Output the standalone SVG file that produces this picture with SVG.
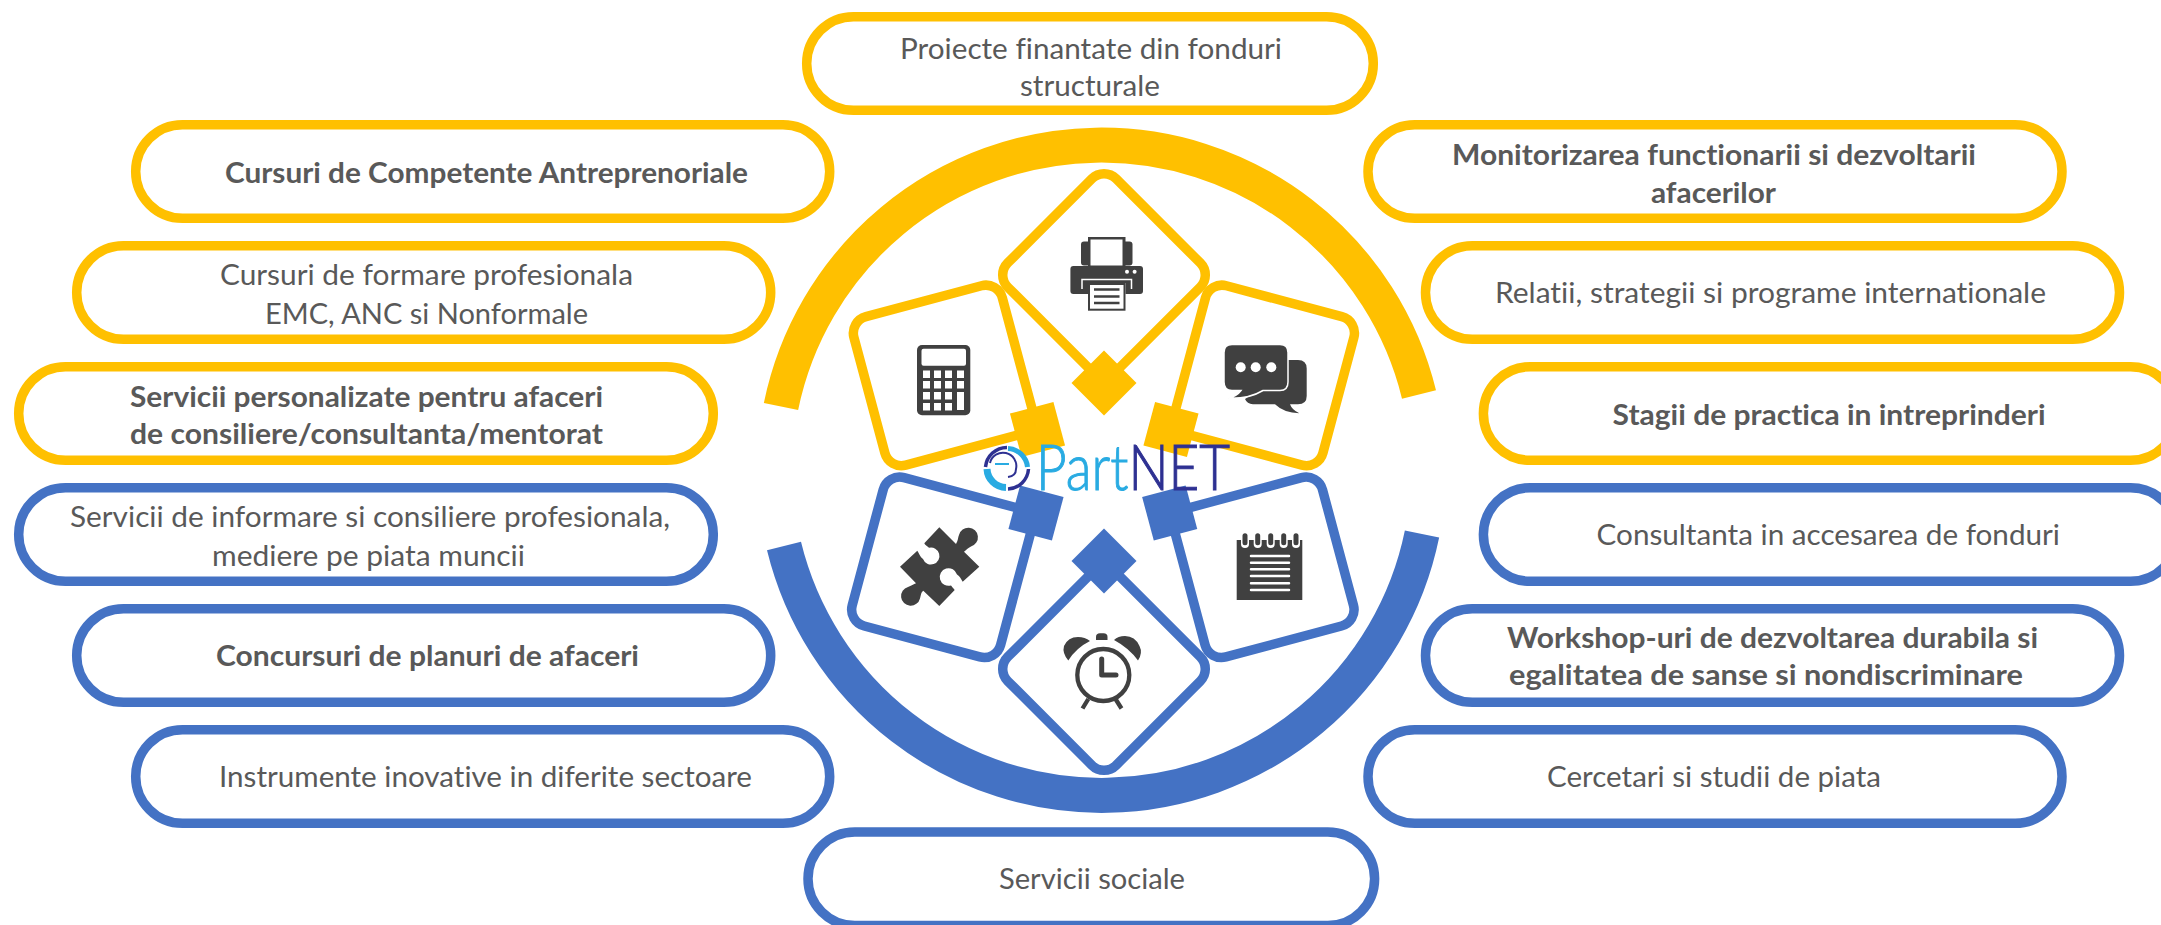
<svg xmlns="http://www.w3.org/2000/svg" width="2161" height="925" viewBox="0 0 2161 925">
<style>
text{font-family:"Lato","Carlito","Open Sans",sans-serif;font-size:29px;fill:#595959;font-variant-ligatures:none}
.b{font-weight:700}
.y{fill:none;stroke:#FFC000;stroke-width:9.5}
.l{fill:none;stroke:#4472C4;stroke-width:9.5}
.fy{fill:#FFC000}.fl{fill:#4472C4}
.k{fill:#404040}.w{fill:#fff}
.ks{fill:none;stroke:#404040;stroke-width:4.300}
.ws{fill:none;stroke:#fff}
.logo{font-family:"Lato","Inter",sans-serif;font-weight:300;font-size:63px;stroke-width:1}
</style>
<rect width="2161" height="925" fill="#fff"/>
<g id="connectors" fill="none" stroke-width="35">
<path d="M781,406.500A327,327 0 0 1 1419,394.500" stroke="#FFC000"/>
<path d="M784,546A327,327 0 0 0 1422,534" stroke="#4472C4"/>
</g>

<g id="pill-top"><rect class="y" x="806.700" y="16.700" width="566.600" height="93.600" rx="46.800"/>
<text x="900" y="59" textLength="382" lengthAdjust="spacingAndGlyphs">Proiecte finantate din fonduri</text>
<text x="1020" y="96" textLength="140" lengthAdjust="spacingAndGlyphs">structurale</text></g>
<g id="pill-l1"><rect class="y" x="135.700" y="124.700" width="694" height="93.600" rx="46.800"/>
<text class="b" x="225" y="183" textLength="523" lengthAdjust="spacingAndGlyphs">Cursuri de Competente Antreprenoriale</text></g>
<g id="pill-l2"><rect class="y" x="76.700" y="245.700" width="694" height="93.600" rx="46.800"/>
<text x="220" y="285" textLength="413" lengthAdjust="spacingAndGlyphs">Cursuri de formare profesionala</text>
<text x="265" y="324" textLength="323" lengthAdjust="spacingAndGlyphs">EMC, ANC si Nonformale</text></g>
<g id="pill-l3"><rect class="y" x="18.700" y="366.700" width="694.600" height="93.600" rx="46.800"/>
<text class="b" x="130" y="407" textLength="473" lengthAdjust="spacingAndGlyphs">Servicii personalizate pentru afaceri</text>
<text class="b" x="130" y="444" textLength="473" lengthAdjust="spacingAndGlyphs">de consiliere/consultanta/mentorat</text></g>
<g id="pill-l4"><rect class="l" x="18.700" y="487.700" width="694.600" height="93.600" rx="46.800"/>
<text x="70" y="527" textLength="600" lengthAdjust="spacingAndGlyphs">Servicii de informare si consiliere profesionala,</text>
<text x="212" y="566" textLength="313" lengthAdjust="spacingAndGlyphs">mediere pe piata muncii</text></g>
<g id="pill-l5"><rect class="l" x="76.700" y="608.700" width="694" height="93.600" rx="46.800"/>
<text class="b" x="216" y="666" textLength="423" lengthAdjust="spacingAndGlyphs">Concursuri de planuri de afaceri</text></g>
<g id="pill-l6"><rect class="l" x="135.700" y="729.700" width="694" height="93.600" rx="46.800"/>
<text x="219" y="787" textLength="533" lengthAdjust="spacingAndGlyphs">Instrumente inovative in diferite sectoare</text></g>
<g id="pill-r1"><rect class="y" x="1368" y="124.700" width="694" height="93.600" rx="46.800"/>
<text class="b" x="1452" y="165" textLength="524" lengthAdjust="spacingAndGlyphs">Monitorizarea functionarii si dezvoltarii</text>
<text class="b" x="1651" y="203" textLength="125" lengthAdjust="spacingAndGlyphs">afacerilor</text></g>
<g id="pill-r2"><rect class="y" x="1425.500" y="245.700" width="694" height="93.600" rx="46.800"/>
<text x="1495" y="303" textLength="551" lengthAdjust="spacingAndGlyphs">Relatii, strategii si programe internationale</text></g>
<g id="pill-r3"><rect class="y" x="1483.400" y="366.700" width="694" height="93.600" rx="46.800"/>
<text class="b" x="1612.600" y="425" textLength="433" lengthAdjust="spacingAndGlyphs">Stagii de practica in intreprinderi</text></g>
<g id="pill-r4"><rect class="l" x="1483.400" y="487.700" width="694" height="93.600" rx="46.800"/>
<text x="1596.600" y="545" textLength="463.400" lengthAdjust="spacingAndGlyphs">Consultanta in accesarea de fonduri</text></g>
<g id="pill-r5"><rect class="l" x="1425.500" y="608.700" width="694" height="93.600" rx="46.800"/>
<text class="b" x="1507" y="648" textLength="531" lengthAdjust="spacingAndGlyphs">Workshop-uri de dezvoltarea durabila si</text>
<text class="b" x="1509" y="685" textLength="514" lengthAdjust="spacingAndGlyphs">egalitatea de sanse si nondiscriminare</text></g>
<g id="pill-r6"><rect class="l" x="1368" y="729.700" width="694" height="93.600" rx="46.800"/>
<text x="1547" y="787" textLength="334" lengthAdjust="spacingAndGlyphs">Cercetari si studii de piata</text></g>
<g id="pill-bottom"><rect class="l" x="808" y="832" width="566.600" height="93.600" rx="46.800"/>
<text x="999" y="889" textLength="186" lengthAdjust="spacingAndGlyphs">Servicii sociale</text></g>

<g id="node-printer">
<rect class="y" x="-76.600" y="-76.600" width="153.200" height="153.200" rx="17" transform="translate(1104,275) rotate(45)"/>
<rect class="fy" x="-23" y="-23" width="46" height="46" transform="translate(1104,383) rotate(45)"/>
<rect class="k" x="1081" y="241.500" width="51.500" height="24" rx="3"/>
<rect class="k" x="1088" y="237" width="37.500" height="29"/>
<rect class="w" x="1090.500" y="239.500" width="32" height="26"/>
<rect class="k" x="1070.400" y="266" width="72.600" height="28" rx="3"/>
<path class="ws" stroke-width="1.500" d="M1082,289V279.500H1131.500V289"/>
<rect class="w" x="1088" y="283" width="37.500" height="27.700"/>
<rect fill="none" stroke="#404040" stroke-width="2" x="1089" y="284" width="35.500" height="25.700"/>
<path d="M1094,289.500H1119.500M1094,296.500H1119.500M1094,303H1119.500" stroke="#404040" stroke-width="2.500" fill="none"/>
<circle class="w" cx="1127" cy="271.700" r="2"/><circle class="w" cx="1134.600" cy="271.700" r="2"/>
</g>

<g id="node-calculator">
<rect class="y" x="-76.800" y="-76.800" width="153.600" height="153.600" rx="17" transform="translate(943.600,375.400) rotate(-15)"/>
<rect class="fy" x="-22.500" y="-22.500" width="45" height="45" transform="translate(1037.500,429.500) rotate(-15)"/>
<rect class="k" x="917" y="345" width="53.300" height="70.300" rx="5"/>
<rect class="w" x="921.500" y="348.700" width="44.500" height="17" rx="2"/>
<g class="w">
<rect x="923" y="370.500" width="7" height="7.500"/><rect x="934" y="370.500" width="7" height="7.500"/><rect x="945" y="370.500" width="7" height="7.500"/><rect x="957" y="370.500" width="7" height="7.500"/>
<rect x="923" y="381" width="7" height="7.500"/><rect x="934" y="381" width="7" height="7.500"/><rect x="945" y="381" width="7" height="7.500"/><rect x="957" y="381" width="7" height="7.500"/>
<rect x="923" y="392" width="7" height="7.500"/><rect x="934" y="392" width="7" height="7.500"/><rect x="945" y="392" width="7" height="7.500"/><rect x="957" y="392" width="7" height="18"/>
<rect x="923" y="403" width="7" height="7.500"/><rect x="934" y="403" width="7" height="7.500"/><rect x="945" y="403" width="7" height="7.500"/>
</g>
</g>

<g id="node-chat">
<rect class="y" x="-76.800" y="-76.800" width="153.600" height="153.600" rx="17" transform="translate(1264.200,375.400) rotate(15)"/>
<rect class="fy" x="-22.500" y="-22.500" width="45" height="45" transform="translate(1171,429.500) rotate(15)"/>
<path class="k" d="M1270,360H1298Q1306.700,360 1306.700,368.500V396Q1306.700,404.300 1298,404.300H1290Q1292,410 1299.300,413.300Q1284,413 1275,404.300H1253Q1247,404 1245,399L1262,388Z"/>
<path class="k" stroke="#fff" stroke-width="1.500" d="M1232,344.500H1280Q1288,344.500 1288,352.500V382Q1288,390.500 1280,390.500H1263Q1249,399 1228.300,398.300Q1237,396 1241,390.500H1232Q1224,390.500 1224,382V352.500Q1224,344.500 1232,344.500Z"/>
<circle class="w" cx="1240.700" cy="367.300" r="5"/><circle class="w" cx="1255.700" cy="367.300" r="5"/><circle class="w" cx="1271.300" cy="367.300" r="5"/>
</g>

<g id="node-puzzle">
<rect class="l" x="-76.800" y="-76.800" width="153.600" height="153.600" rx="17" transform="translate(941.900,567.300) rotate(15)"/>
<rect class="fl" x="-22.500" y="-22.500" width="45" height="45" transform="translate(1036,513) rotate(15)"/>
<path class="k" d="M939.300,527.300L956,544C958,541 958,537 959,535A9.600,9.600 0 1 1 971,546.500C968,548 966,550 964,551.700L979.300,566.700L962.700,581.700C961,579 960,576 957,574.500A8.800,8.800 0 1 0 951,585.400C952,587 953.500,588 954.700,590L939.300,606L923.300,590.700C921,592 921,595 920,598.400A9.600,9.600 0 1 1 908,586.900C911,586 914,584 916,583.300L900,566.700L917.300,550.700C919,553 920,557 923,559A8.500,8.500 0 1 0 929,547.700C927,546 925,545 924.300,543.300Z"/>
</g>

<g id="node-notepad">
<rect class="l" x="-76.800" y="-76.800" width="153.600" height="153.600" rx="17" transform="translate(1263.800,567.300) rotate(-15)"/>
<rect class="fl" x="-22.500" y="-22.500" width="45" height="45" transform="translate(1169.700,513) rotate(-15)"/>
<rect class="k" x="1236.700" y="540" width="65.600" height="60"/>
<g class="w"><rect x="1241" y="530" width="8" height="18" rx="4"/><rect x="1253.700" y="530" width="8" height="18" rx="4"/><rect x="1266.700" y="530" width="8" height="18" rx="4"/><rect x="1279.700" y="530" width="8" height="18" rx="4"/><rect x="1292" y="530" width="8" height="18" rx="4"/></g>
<g class="k"><rect x="1242.500" y="533.300" width="5" height="12" rx="2.500"/><rect x="1255.200" y="533.300" width="5" height="12" rx="2.500"/><rect x="1268.200" y="533.300" width="5" height="12" rx="2.500"/><rect x="1281.200" y="533.300" width="5" height="12" rx="2.500"/><rect x="1293.500" y="533.300" width="5" height="12" rx="2.500"/></g>
<path d="M1251,556H1289M1251,562.700H1289M1251,569.300H1289M1251,576H1289M1251,583.300H1289M1251,590H1289" stroke="#fff" stroke-width="2.500" stroke-linecap="round" fill="none"/>
</g>

<g id="node-clock">
<rect class="l" x="-76.600" y="-76.600" width="153.200" height="153.200" rx="17" transform="translate(1104,669) rotate(45)"/>
<rect class="fl" x="-23" y="-23" width="46" height="46" transform="translate(1104,561) rotate(45)"/>
<circle class="ks" cx="1103.300" cy="675" r="26"/>
<path class="ks" d="M1101.700,659V675H1116" style="stroke-width:5" stroke-linecap="round" stroke-linejoin="round"/>
<path class="ks" d="M1088.300,699L1082.500,708.500M1115.500,699L1121.500,708.500"/>
<path class="k" d="M1068.300,660.500Q1062,653 1064,646Q1068,637 1078,637Q1085,637 1090,641Q1076,648 1068.300,660.500Z"/>
<path class="k" d="M1138,660.500Q1143,653 1139.500,646Q1135,636 1125,636Q1118,636 1114,640Q1129,648 1138,660.500Z"/>
<path class="k" d="M1096,640V637Q1096,633.300 1100,633.300H1103.500Q1107.500,633.300 1107.500,637V640Z"/>
</g>

<g id="logo">
<path d="M985.500,467A21.500,21.500 0 0 1 1007,447.500" fill="none" stroke="#2E3192" stroke-width="3.500"/>
<path d="M1008,448.500A20.500,20.500 0 0 1 1027.500,467" fill="none" stroke="#29ABE2" stroke-width="5"/>
<path d="M1028.500,469A21.500,21.500 0 0 1 1008,489" fill="none" stroke="#2E3192" stroke-width="3.500"/>
<path d="M1006,487.500A19.500,19.500 0 0 1 987,469" fill="none" stroke="#29ABE2" stroke-width="7"/>
<path d="M990,463A12.500,12.500 0 0 1 1016,469Q1016,476 1008,477" fill="none" stroke="#2E3192" stroke-width="2"/>
<path d="M995,464H1009" fill="none" stroke="#29ABE2" stroke-width="2"/>
<text class="logo" x="1036" y="490" textLength="194" lengthAdjust="spacingAndGlyphs"><tspan style="fill:#29ABE2;stroke:#29ABE2">Part</tspan><tspan style="fill:#2E3192;stroke:#2E3192">NET</tspan></text>
</g>
</svg>
